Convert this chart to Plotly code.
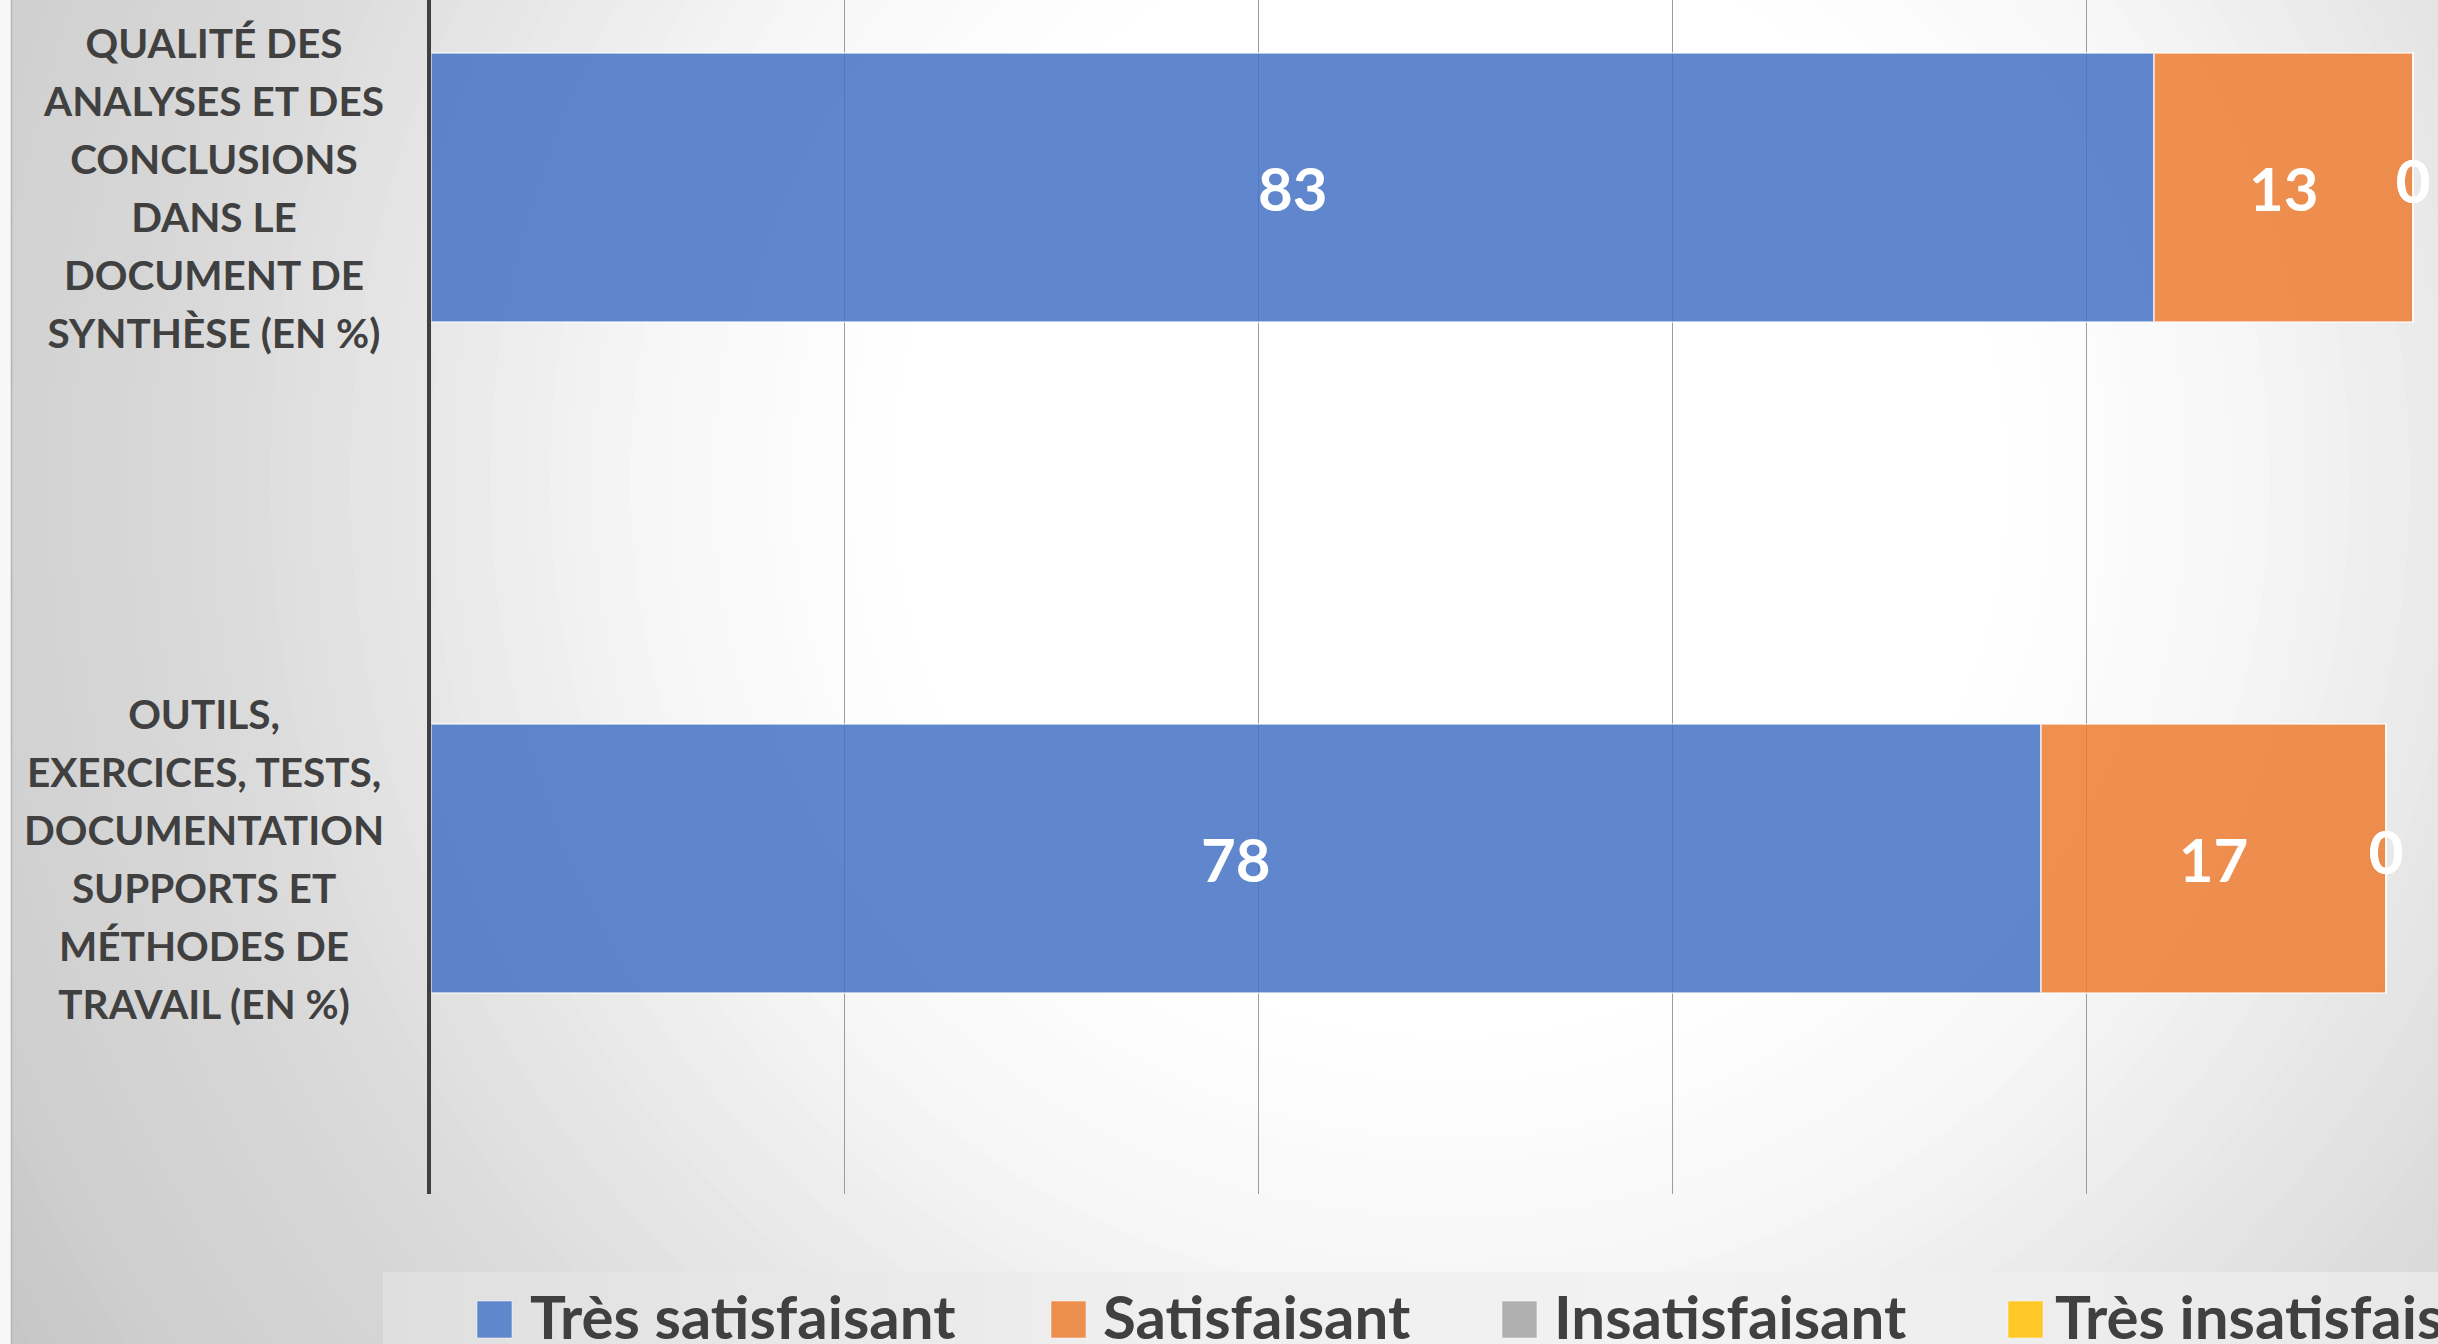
import plotly.graph_objects as go

# ---------------- data ----------------
categories = ["OUTILS", "QUALITE"]  # bottom -> top
category_lines = [
    ["OUTILS,", "EXERCICES, TESTS,", "DOCUMENTATION", "SUPPORTS ET", "MÉTHODES DE", "TRAVAIL (EN %)"],
    ["QUALITÉ DES", "ANALYSES ET DES", "CONCLUSIONS", "DANS LE", "DOCUMENT DE", "SYNTHÈSE (EN %)"],
]
series_names = ["Très satisfaisant", "Satisfaisant", "Insatisfaisant", "Très insatisfaisant"]
tres_satisfaisant = [77.8, 83.3]
satisfaisant = [16.7, 12.5]
insatisfaisant = [0, 0]
tres_insatisfaisant = [0, 0]
series_values = [tres_satisfaisant, satisfaisant, insatisfaisant, tres_insatisfaisant]
series_colors = ["rgba(68,114,196,0.85)", "rgba(237,125,49,0.85)",
                 "rgba(165,165,165,0.85)", "rgba(255,192,0,0.85)"]
x_ticks = [0, 20, 40, 60, 80]

# ---------------- geometry ----------------
W, H = 2438, 1344
ML, MR, MT, MB = 431, 0, 0, 150
PW, PH = W - ML - MR, H - MT - MB


def px_x(px):
    return (px - ML) / PW


def px_y(py):
    return (MT + PH - py) / PH


FONT = "Lato"
TXT = "#404040"

fig = go.Figure()

for name, vals, col in zip(series_names, series_values, series_colors):
    nonzero = any(v > 0 for v in vals)
    fig.add_trace(go.Bar(
        y=categories, x=vals, name=name, orientation="h",
        marker=dict(color=col, line=dict(color="rgba(255,255,255,0.55)", width=2)),
        texttemplate="%{x:.0f}" if nonzero else None,
        textposition="inside" if nonzero else "none",
        insidetextanchor="middle", textangle=0,
        textfont=dict(family=FONT, size=60, color="white", weight="bold"),
        showlegend=False, hoverinfo="skip",
    ))

# labels for the zero-valued series, centred at the end of the stack
totals = [sum(v[i] for v in series_values) for i in range(len(categories))]
for name, vals in zip(series_names, series_values):
    if all(v == 0 for v in vals):
        fig.add_trace(go.Scatter(
            y=categories, x=totals, mode="text",
            text=[f"{v:.0f}" for v in vals], textposition="middle center",
            textfont=dict(family=FONT, size=60, color="white", weight="bold"),
            showlegend=False, hoverinfo="skip", cliponaxis=False,
        ))

shapes = []
# radial background gradient
cx, cy = 1450, 480
stops = [(560, 255), (800, 247), (1063, 230), (1270, 217), (1540, 207), (1750, 194)]


def grey_at(r):
    if r <= stops[0][0]:
        return stops[0][1]
    for (r0, g0), (r1, g1) in zip(stops[:-1], stops[1:]):
        if r <= r1:
            return g0 + (g1 - g0) * (r - r0) / (r1 - r0)
    return stops[-1][1]


r = 1800
while r >= 520:
    g = int(round(grey_at(r)))
    shapes.append(dict(type="circle", xref="paper", yref="paper", layer="below",
                       x0=px_x(cx - r), x1=px_x(cx + r), y0=px_y(cy + r), y1=px_y(cy - r),
                       fillcolor=f"rgb({g},{g},{g})", line=dict(width=0)))
    r -= 20

# left white strip
shapes.append(dict(type="rect", xref="paper", yref="paper", layer="below",
                   x0=px_x(0), x1=px_x(11), y0=px_y(H), y1=px_y(0),
                   fillcolor="#f7f7f7", line=dict(width=0)))
shapes.append(dict(type="line", xref="paper", yref="paper", layer="below",
                   x0=px_x(11.5), x1=px_x(11.5), y0=px_y(H), y1=px_y(0),
                   line=dict(color="#b4b4b4", width=1.5)))

# legend box (horizontal gradient)
lg = [(383, 223), (1200, 240), (1700, 242), (2438, 232)]


def lg_at(x):
    for (x0, g0), (x1, g1) in zip(lg[:-1], lg[1:]):
        if x <= x1:
            return g0 + (g1 - g0) * (x - x0) / (x1 - x0)
    return lg[-1][1]


x = 383
step = 25
while x < W:
    g = int(round(lg_at(x + step / 2)))
    shapes.append(dict(type="rect", xref="paper", yref="paper", layer="below",
                       x0=px_x(x), x1=px_x(min(x + step + 1, W)), y0=px_y(H), y1=px_y(1272),
                       fillcolor=f"rgb({g},{g},{g})", line=dict(width=0)))
    x += step

# legend squares + text
leg_sq_x = [477, 1051, 1502, 2008]
leg_txt_x = [529, 1102, 1553, 2054]
leg_colors = ["#5f87cb", "#ed8f4f", "#b0b0b0", "#fec928"]
annotations = []
for sx, tx, col, name in zip(leg_sq_x, leg_txt_x, leg_colors, series_names):
    shapes.append(dict(type="rect", xref="paper", yref="paper", layer="above",
                       x0=px_x(sx), x1=px_x(sx + 35), y0=px_y(1338), y1=px_y(1301),
                       fillcolor=col, line=dict(color="rgba(255,255,255,0.5)", width=1)))
    annotations.append(dict(xref="paper", yref="paper", x=px_x(tx), y=px_y(1279),
                            xanchor="left", yanchor="top", showarrow=False, borderpad=0,
                            text=name, font=dict(family=FONT, size=60, color=TXT, weight="bold")))

# category labels
for cat, lines in zip(categories, category_lines):
    txt = "<br>".join(f"<span style='font-size:40.5px'>{l}</span>" for l in lines)
    annotations.append(dict(xref="paper", yref="y", x=px_x(386), y=cat,
                            xanchor="right", yanchor="middle", align="center",
                            showarrow=False, text=txt,
                            font=dict(family=FONT, size=44.6, color=TXT, weight="bold")))

fig.update_layout(
    width=W, height=H,
    margin=dict(l=ML, r=MR, t=MT, b=MB, pad=0),
    barmode="stack", bargap=0.6,
    paper_bgcolor="#c4c4c4", plot_bgcolor="rgba(0,0,0,0)",
    showlegend=False,
    xaxis=dict(range=[0, PW / 20.69], tickvals=x_ticks, showticklabels=False,
               showgrid=True, gridcolor="#9c9c9c", gridwidth=1, zeroline=False,
               showline=False, ticks="", fixedrange=True),
    yaxis=dict(categoryorder="array", categoryarray=categories,
               range=[-0.5, -0.5 + PH / 671.0], showticklabels=False, ticks="",
               showgrid=False, zeroline=False, showline=True,
               linecolor="#404040", linewidth=3.5, fixedrange=True),
    shapes=shapes, annotations=annotations,
)

fig.write_html(
    "out.html",
    config={"displayModeBar": False},
    post_script="document.body.style.margin='0';document.body.style.overflow='hidden';",
)
